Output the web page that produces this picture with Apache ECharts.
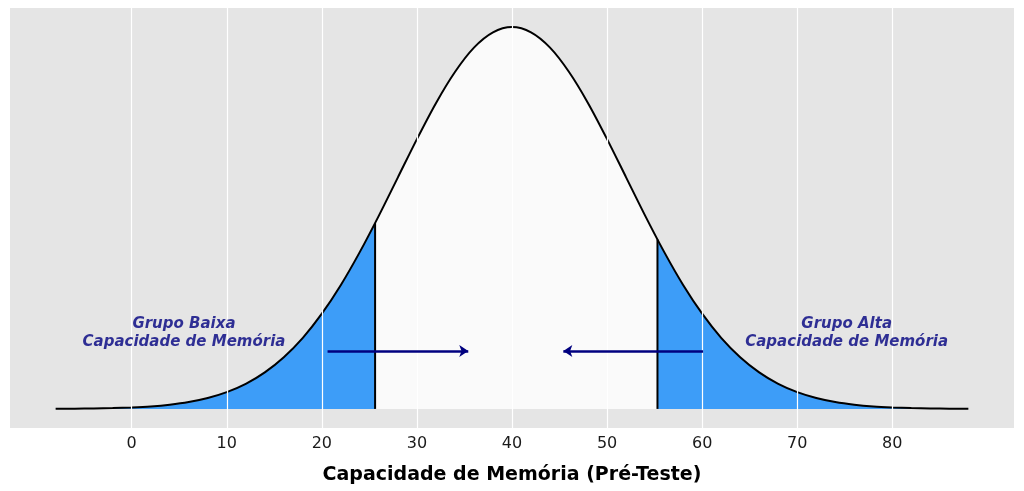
<!DOCTYPE html>
<html>
<head>
<meta charset="utf-8">
<script src="https://cdn.jsdelivr.net/npm/echarts@6/dist/echarts.min.js"></script>
<style>html,body{margin:0;padding:0;background:#fff}#c{width:1024px;height:491px}</style>
</head>
<body>
<div id="c"></div>
<script>
// densidade (media 40), x de 2 em 2
var xs = [-8,-6,-4,-2,0,2,4,6,8,10,12,14,16,18,20,22,24,26,28,30,32,34,36,38,40,42,44,46,48,50,52,54,56,58,60,62,64,66,68,70,72,74,76,78,80,82,84,86,88];
var dens = [0.00001,0.00002,0.00004,0.00007,0.00013,0.00022,0.00037,0.00060,0.00095,0.00146,0.00218,0.00318,0.00450,0.00619,0.00829,0.01079,0.01367,0.01683,0.02016,0.02349,0.02662,0.02933,0.03145,0.03278,0.03324,0.03278,0.03145,0.02933,0.02662,0.02349,0.02016,0.01683,0.01367,0.01079,0.00829,0.00619,0.00450,0.00318,0.00218,0.00146,0.00095,0.00060,0.00037,0.00022,0.00013,0.00007,0.00004,0.00002,0.00001];
var corteBaixo = [25.6, 0.01618];
var corteAlto = [55.3, 0.01475];
var tickVals = [0,10,20,30,40,50,60,70,80];
var setaBaixa = [[20.6,0.00505],[35.4,0.00505]];
var setaAlta = [[60.1,0.00505],[45.4,0.00505]];
var rotulos = [[5.5,0.0066,'Grupo Baixa\nCapacidade de Memória'],[75.2,0.0066,'Grupo Alta\nCapacidade de Memória']];

var curva = xs.map(function(x,i){return [x,dens[i]];});
var esq = curva.filter(function(p){return p[0]<corteBaixo[0];}).concat([corteBaixo]);
var meio = [corteBaixo].concat(curva.filter(function(p){return p[0]>corteBaixo[0]&&p[0]<corteAlto[0];})).concat([corteAlto]);
var dir = [corteAlto].concat(curva.filter(function(p){return p[0]>corteAlto[0];}));
var peak = 0.03324;

var chart = echarts.init(document.getElementById('c'));
function area(d,color){
  return {type:'line',z:3,data:d,smooth:0.3,symbol:'none',lineStyle:{width:0},areaStyle:{color:color,opacity:1},silent:true};
}
function seta(s){
  return [{coord:s[0]},{coord:s[1]}];
}
chart.setOption({
  animation:false,
  grid:{left:10,right:10,top:8,bottom:63,show:true,backgroundColor:'#e5e5e5',borderWidth:0},
  xAxis:{type:'value',min:-12.8,max:92.8,
    axisLine:{show:false},splitLine:{show:false},
    axisTick:{show:true,customValues:tickVals,length:4,lineStyle:{color:'#333'}},
    axisLabel:{customValues:tickVals,color:'#1a1a1a',fontSize:16,margin:8,fontFamily:'DejaVu Sans'},
    name:'Capacidade de Memória (Pré-Teste)',nameLocation:'middle',nameGap:38,
    nameTextStyle:{fontSize:19,fontWeight:'bold',color:'#000',fontFamily:'DejaVu Sans'}},
  yAxis:{type:'value',min:-0.05*peak,max:1.05*peak,show:false,splitLine:{show:false}},
  series:[
    {type:'line',z:1,data:[],markLine:{silent:true,symbol:'none',label:{show:false},
      lineStyle:{color:'#fff',width:1.2,type:'solid'},
      data:tickVals.map(function(v){return {xAxis:v};})}},
    area(esq,'#3d9df8'),
    area(meio,'#fafafa'),
    area(dir,'#3d9df8'),
    {type:'line',z:4,data:[[corteBaixo[0],0],corteBaixo],symbol:'none',lineStyle:{color:'#000',width:2}},
    {type:'line',z:4,data:[[corteAlto[0],0],corteAlto],symbol:'none',lineStyle:{color:'#000',width:2}},
    {type:'line',z:4,data:curva,smooth:0.3,symbol:'none',lineStyle:{color:'#000',width:2}},
    {type:'line',z:5,data:[],markLine:{silent:true,symbol:['none','arrow'],symbolSize:9,label:{show:false},
      lineStyle:{color:'#00007f',width:2.5,type:'solid'},
      data:[seta(setaBaixa),seta(setaAlta)]}},
    {type:'scatter',z:6,symbolSize:0,data:rotulos,
      label:{show:true,position:'inside',formatter:function(p){return p.data[2];},
        color:'#000080',fontSize:15,fontWeight:'bold',fontStyle:'italic',lineHeight:18,align:'center',fontFamily:'DejaVu Sans'}}
  ]
});
</script>
</body>
</html>
